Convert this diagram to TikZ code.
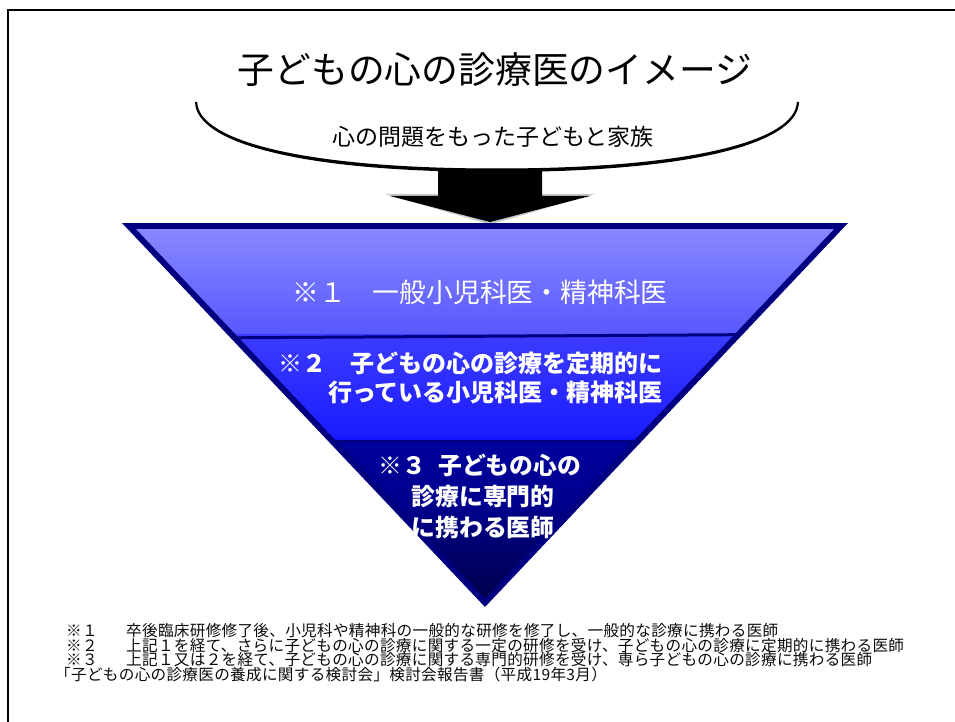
\documentclass[tikz,border=0pt]{standalone}
\usepackage{fontspec}
\setmainfont{Noto Sans CJK JP}
\definecolor{navyb}{RGB}{0,0,128}
\definecolor{bandAtop}{RGB}{136,136,255}
\definecolor{bandAbot}{RGB}{86,86,255}
\definecolor{bandBa}{RGB}{62,62,255}
\definecolor{bandBb}{RGB}{18,18,255}
\definecolor{bandBc}{RGB}{0,0,255}
\definecolor{bandBd}{RGB}{28,28,255}
\definecolor{bandBe}{RGB}{76,76,255}
\definecolor{bandCa}{RGB}{0,0,6}
\definecolor{bandCb}{RGB}{0,0,64}
\definecolor{bandCc}{RGB}{0,0,140}
\definecolor{bandCd}{RGB}{0,0,178}
\definecolor{foot}{RGB}{10,10,10}
\pgfdeclareverticalshading{bandtwo}{100bp}{color(0bp)=(bandBa); color(16bp)=(bandBb); color(22bp)=(bandBc); color(28bp)=(bandBd); color(100bp)=(bandBe)}
\pgfdeclareverticalshading{bandthree}{100bp}{color(0bp)=(bandCa); color(20bp)=(bandCb); color(55bp)=(bandCc); color(100bp)=(bandCd)}
\tikzset{
  bandtxt/.style={text=white, inner sep=0pt},
  bandbold/.style={bandtxt, font=\bfseries\fontsize{24}{28}\selectfont},
  bandthreetxt/.style={bandtxt, font=\bfseries\fontsize{23.8}{28}\selectfont},
  foottxt/.style={anchor=west, inner sep=0pt, text=foot, font=\fontsize{15.6}{17}\selectfont\addfontfeature{LetterSpace=2}},
  divider/.style={draw=navyb, line width=3pt},
}
\begin{document}
\begin{tikzpicture}[x=1pt,y=-1pt]
\useasboundingbox (0,0) rectangle (955,722);
\fill[white] (0,0) rectangle (955,722);
% frame (top and left)
\coordinate (fbl) at (8,722);
\coordinate (ftl) at (8,10);
\coordinate (ftr) at (955,10);
\draw[line width=2.5pt] (fbl) -- (ftl) -- (ftr);

% title
\node[inner sep=0pt, font=\fontsize{36.8}{40}\selectfont] (title) at (495,70) {子どもの心の診療医のイメージ};

% bowl curve
\coordinate (cl) at (195,102);
\coordinate (cr) at (799,102);
\fill[black] (cl) .. controls (196,143) and (300,172) .. (497,172)
  .. controls (694,172) and (798,143) .. (cr)
  -- (796.8,102) .. controls (795.8,140) and (694,168.5) .. (497,168.5)
  .. controls (300,168.5) and (198.2,140) .. (197.2,102) -- cycle;

\node[inner sep=0pt, font=\fontsize{23}{26}\selectfont] (sub) at (493,137) {心の問題をもった子どもと家族};

% arrow
\fill[black!60, opacity=0.35] (436,194) -- (595,194) -- (490,224.5) -- (385,194) -- cycle;
\fill[black] (438,169) -- (542,169) -- (542,196) -- (590,196) -- (490,222) -- (390,196) -- (438,196) -- cycle;

% inverted triangle
\coordinate (otl) at (122,223);
\coordinate (otr) at (848,223);
\coordinate (oap) at (485,607);
\coordinate (itl) at (134.8,228.5);
\coordinate (itr) at (835.2,228.5);
\coordinate (iap) at (485,599);
\fill[navyb] (otl) -- (otr) -- (oap) -- cycle;
\begin{scope}
  \clip (itl) -- (itr) -- (iap) -- cycle;
  \fill[top color=bandAtop, bottom color=bandAbot] (120,228) -- (850,228) -- (850,334) -- (120,338) -- cycle;
  \fill[shading=bandtwo] (120,334) -- (850,334) -- (850,441) -- (120,441) -- cycle;
  \fill[shading=bandthree] (120,441) rectangle (850,600);
  \draw[divider] (120,338.5) -- (850,334);
  \draw[divider] (120,441) -- (850,441);
\end{scope}
\draw[navyb, line width=0.8pt] (itl) -- (itr) -- (iap) -- cycle;

% band texts
\node[bandtxt, font=\fontsize{26.8}{30}\selectfont] (b1) at (480,292) {※１　一般小児科医・精神科医};
\node[bandbold, anchor=east] (b2a) at (663,363) {※２　子どもの心の診療を定期的に};
\node[bandbold, anchor=east] (b2b) at (663,392) {行っている小児科医・精神科医};
\node[bandthreetxt] (b3a) at (480,465) {※３\hspace{0.5em}子どもの心の};
\node[bandthreetxt] (b3b) at (483,496) {診療に専門的};
\node[bandthreetxt] (b3c) at (483,527) {に携わる医師};

% footnotes
\node[foottxt] (n1m) at (66,631) {※１};
\node[foottxt] (n1t) at (126,631) {卒後臨床研修修了後、小児科や精神科の一般的な研修を修了し、一般的な診療に携わる医師};
\node[foottxt] (n2m) at (66,645.5) {※２};
\node[foottxt] (n2t) at (126,645.5) {上記１を経て、さらに子どもの心の診療に関する一定の研修を受け、子どもの心の診療に定期的に携わる医師};
\node[foottxt] (n3m) at (66,660) {※３};
\node[foottxt] (n3t) at (126,660) {上記１又は２を経て、子どもの心の診療に関する専門的研修を受け、専ら子どもの心の診療に携わる医師};
\node[foottxt] (n4) at (55,674.5) {「子どもの心の診療医の養成に関する検討会」検討会報告書（平成19年3月）};
\end{tikzpicture}
\end{document}
